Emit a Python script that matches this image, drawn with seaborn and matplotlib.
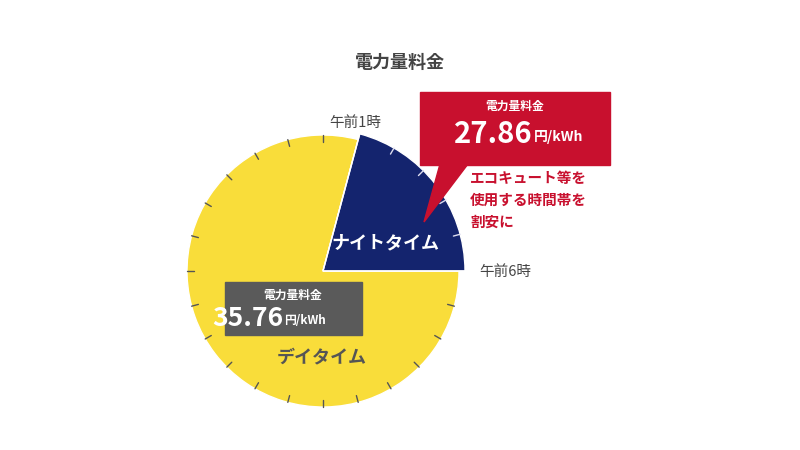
import numpy as np
import matplotlib
matplotlib.use("Agg")
import matplotlib.pyplot as plt
import seaborn as sns
from matplotlib.patches import Rectangle, Polygon

sns.set_theme(style="white")
plt.rcParams['font.family'] = ['Noto Sans CJK JP', 'DejaVu Sans']

title = "電力量料金"
segments = ["ナイトタイム", "デイタイム"]
hours = [5, 19]
prices = ["27.86", "35.76"]
unit = "円/kWh"
time_labels = ["午前1時", "午前6時"]
note_lines = ["エコキュート等を", "使用する時間帯を", "割安に"]

YEL, NAVY, RED, GRAY = "#F9DD3A", "#14246E", "#C8102E", "#5A5A5A"

fig = plt.figure(figsize=(8, 4.5), dpi=100)
ax = fig.add_axes([0, 0, 1, 1])
ax.set_xlim(0, 800); ax.set_ylim(0, 450)
ax.axis("off")
Y = lambda py: 450 - py
cx, cy = 323, Y(271)

# Day (yellow) pie, smaller radius
ax.pie(hours, colors=["none", YEL], radius=136, center=(cx, cy),
       startangle=0, counterclock=True, frame=True)
# Night wedge, larger radius
ax.pie(hours, colors=[NAVY, "none"], radius=142, center=(cx, cy),
       startangle=0, counterclock=True, frame=True)
ax.set_xlim(0, 800); ax.set_ylim(0, 450); ax.axis("off")
ax.set_aspect("equal")

# hour ticks
for h in range(24):
    ang = np.deg2rad(90 - h * 15)
    night = 1 <= h <= 6
    r = 142 if night else 136
    if h in (1, 6, 0):
        if h in (1, 6):
            continue
    col = "#DDDDEE" if (1 < h < 6) else "#555555"
    ax.plot([cx + (r - 7) * np.cos(ang), cx + r * np.cos(ang)],
            [cy + (r - 7) * np.sin(ang), cy + r * np.sin(ang)],
            color=col, lw=1.0, zorder=5)

ax.text(400, Y(62), title, ha="center", va="center", fontsize=13, color="#444444", fontweight="bold")
ax.text(355, Y(123), time_labels[0], ha="center", va="center", fontsize=10.5, color="#444444")
ax.text(505, Y(272), time_labels[1], ha="center", va="center", fontsize=10.5, color="#444444")

ax.text(385, Y(243), segments[0], ha="center", va="center", fontsize=13, color="white", fontweight="bold")
ax.text(322, Y(357), segments[1], ha="center", va="center", fontsize=13, color="#555555", fontweight="bold")

# gray box
ax.add_patch(Rectangle((225, Y(335)), 137, 53, color=GRAY, zorder=6))
ax.text(293, Y(295), title, ha="center", va="center", fontsize=8.5, color="white", fontweight="bold", zorder=7)
ax.text(283, Y(319), prices[1], ha="right", va="center", fontsize=19, color="white", fontweight="bold", zorder=7)
ax.text(284, Y(321), unit, ha="left", va="center", fontsize=8.5, color="white", fontweight="bold", zorder=7)

# red callout
ax.add_patch(Rectangle((420, Y(165)), 190, 73, color=RED, zorder=6))
ax.add_patch(Polygon([(440, Y(164)), (468, Y(164)), (424, Y(222))], color=RED, zorder=6))
ax.text(515, Y(106), title, ha="center", va="center", fontsize=8.5, color="white", fontweight="bold", zorder=7)
ax.text(533, Y(134), prices[0], ha="right", va="center", fontsize=21, color="white", fontweight="bold", zorder=7)
ax.text(534, Y(137), unit, ha="left", va="center", fontsize=10, color="white", fontweight="bold", zorder=7)
for i, line in enumerate(note_lines):
    ax.text(470, Y(178 + 22 * i), line, ha="left", va="center", fontsize=10.5, color=RED, fontweight="bold")

fig.savefig("out.png", dpi=100)
